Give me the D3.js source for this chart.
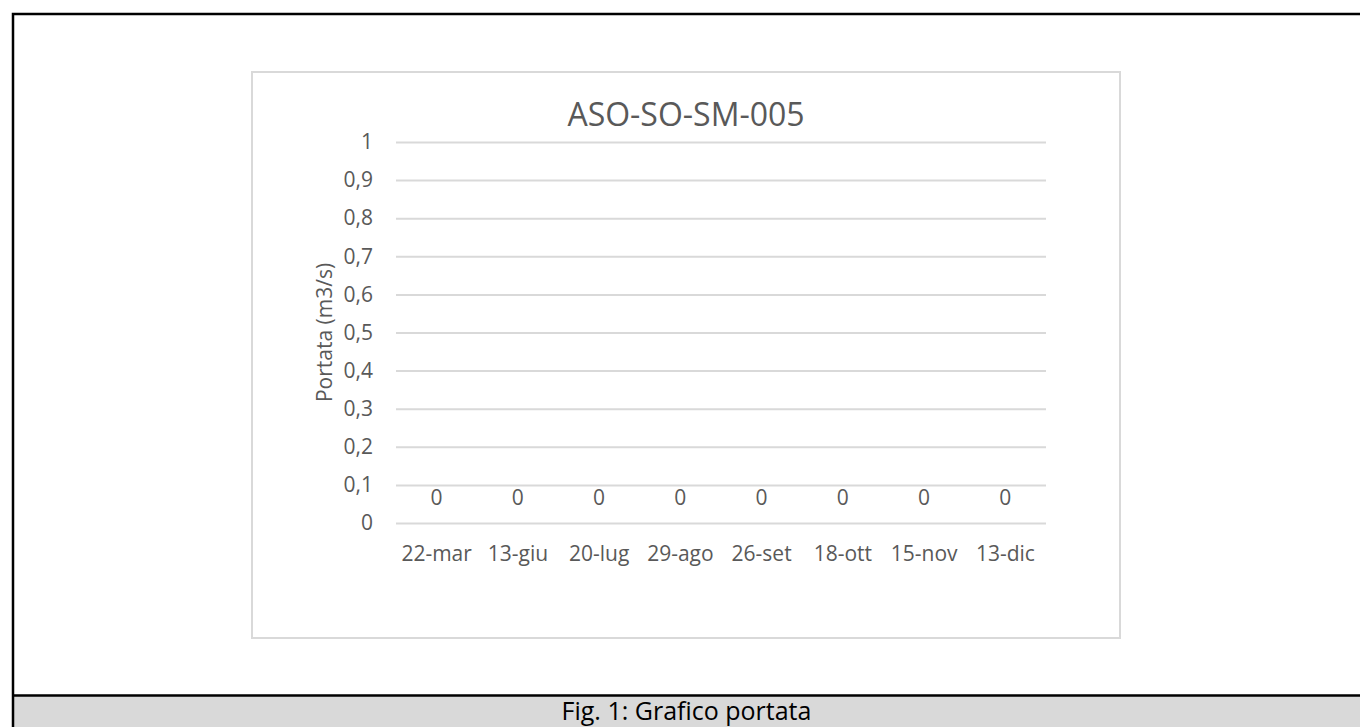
<!DOCTYPE html>
<html>
<head>
<meta charset="utf-8">
<script src="https://cdn.jsdelivr.net/npm/d3@7"></script>
<style>
  body { margin: 0; background: #fff; }
  svg { display: block; font-family: 'Open Sans', sans-serif; }
  .axis text { fill: #595959; font-size: 21px; font-family: 'Open Sans', sans-serif; }
  .grid line { stroke: #d9d9d9; stroke-width: 2; }
</style>
</head>
<body>
<div id="chart"></div>
<script>
/* global d3 */
'use strict';

const categories = ['22-mar', '13-giu', '20-lug', '29-ago', '26-set', '18-ott', '15-nov', '13-dic'];
const portata = [0, 0, 0, 0, 0, 0, 0, 0];
const yTicks = [0, 0.1, 0.2, 0.3, 0.4, 0.5, 0.6, 0.7, 0.8, 0.9, 1];
const chartTitle = 'ASO-SO-SM-005';
const yLabel = 'Portata (m3/s)';
const caption = 'Fig. 1: Grafico portata';

function PortataChart() {
  let self = {
    width: 1360,
    height: 727,
    frame: { left: 13, top: 14, captionTop: 695.5 },
    box: { x: 252, y: 72, w: 868, h: 566 },
    plot: { left: 396, right: 1046, top: 142, bottom: 523 },
    svg: null
  };

  // italian number format, comma as decimal separator
  let it = d3.formatLocale({ decimal: ',', thousands: '.', grouping: [3], currency: ['€', ''] });
  let fmt = d => it.format('~g')(d);

  function init(target) {
    self.svg = target.append('svg')
      .attr('width', self.width).attr('height', self.height);

    // outer document frame + caption band
    self.svg.append('rect')
      .attr('x', self.frame.left).attr('y', self.frame.captionTop)
      .attr('width', self.width).attr('height', self.height - self.frame.captionTop)
      .style('fill', '#d9d9d9');
    self.svg.append('path')
      .attr('d', `M${self.frame.left},${self.height + 5}V${self.frame.top}H${self.width + 5}`
        + `M${self.frame.left},${self.frame.captionTop}H${self.width + 5}`)
      .style('fill', 'none').style('stroke', '#000').style('stroke-width', 2.5);
    self.svg.append('text')
      .attr('x', (self.frame.left + self.width) / 2).attr('y', 720)
      .attr('text-anchor', 'middle').style('font-size', '25px').style('fill', '#000')
      .text(caption);

    // chart area
    self.svg.append('rect')
      .attr('x', self.box.x).attr('y', self.box.y)
      .attr('width', self.box.w).attr('height', self.box.h)
      .style('fill', '#fff').style('stroke', '#d9d9d9').style('stroke-width', 2);

    self.svg.append('text')
      .attr('x', self.box.x + self.box.w / 2).attr('y', 126)
      .attr('text-anchor', 'middle').style('font-size', '32px').style('fill', '#595959')
      .text(chartTitle);
  }

  function update() {
    let p = self.plot;
    let x = d3.scaleBand().domain(categories).range([p.left, p.right]);
    let y = d3.scaleLinear().domain([0, 1]).range([p.bottom, p.top]);

    let yAxis = d3.axisLeft(y).tickValues(yTicks).tickFormat(fmt)
      .tickSize(-(p.right - p.left)).tickPadding(23);
    self.svg.append('g').classed('axis grid', true)
      .attr('transform', `translate(${p.left},0)`).call(yAxis)
      .call(g => g.select('.domain').remove());

    let xAxis = d3.axisBottom(x).tickSize(0).tickPadding(23);
    self.svg.append('g').classed('axis', true)
      .attr('transform', `translate(0,${p.bottom})`).call(xAxis)
      .call(g => g.select('.domain').remove());

    // columns (all zero) and their data labels
    let cols = self.svg.append('g');
    cols.selectAll('rect').data(portata).enter().append('rect')
      .attr('x', (d, i) => x(categories[i]) + x.bandwidth() * 0.2)
      .attr('y', d => y(d)).attr('width', x.bandwidth() * 0.6)
      .attr('height', d => y(0) - y(d)).style('fill', '#4472c4');
    cols.selectAll('text').data(portata).enter().append('text')
      .attr('x', (d, i) => x(categories[i]) + x.bandwidth() / 2)
      .attr('y', d => y(d) - 18)
      .attr('text-anchor', 'middle').style('font-size', '21px').style('fill', '#595959')
      .text(d => fmt(d));

    self.svg.append('text')
      .attr('transform', `translate(332,${(p.top + p.bottom) / 2}) rotate(-90)`)
      .attr('text-anchor', 'middle').style('font-size', '21px').style('fill', '#595959')
      .text(yLabel);
  }

  return { init, update };
}

let chart = PortataChart();
chart.init(d3.select('#chart'));
chart.update();
</script>
</body>
</html>
